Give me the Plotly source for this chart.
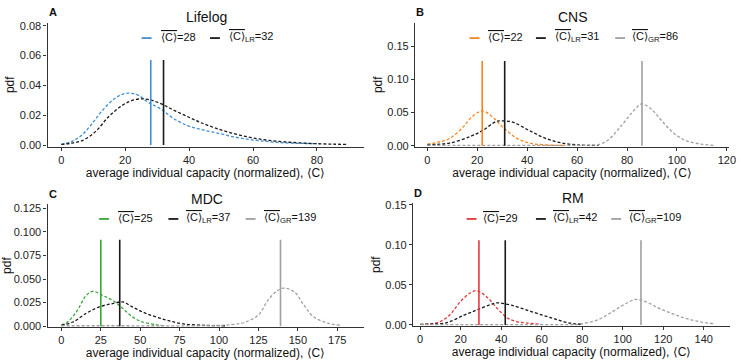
import plotly.graph_objects as go

W, H = 747, 364

# ---- data ----
titles = ["Lifelog", "CNS", "MDC", "RM"]
letters = ["A", "B", "C", "D"]

# A: Lifelog
life_x = [0, 3.5, 6.6, 9.7, 12.8, 15.9, 18.5, 21, 24, 27.2, 31.3, 35, 39.6, 44, 48.9, 54, 59, 64, 69.5, 75, 80]
life_y = [0.0004, 0.0026, 0.007, 0.0146, 0.023, 0.0298, 0.0335, 0.0348, 0.0335, 0.0287, 0.024, 0.018, 0.013, 0.0103, 0.008, 0.0055, 0.0037, 0.0025, 0.0015, 0.0011, 0.0009]
life_lr_x = [0, 3, 6.6, 10.7, 14.8, 19, 22, 25, 28, 31.3, 35, 39.6, 43.5, 47.8, 53, 59, 64, 69.5, 75, 80, 85, 89.6]
life_lr_y = [0.0004, 0.0012, 0.003, 0.009, 0.019, 0.0265, 0.0298, 0.031, 0.0302, 0.0276, 0.0236, 0.019, 0.0152, 0.0117, 0.0082, 0.0052, 0.0034, 0.0022, 0.0014, 0.0009, 0.0006, 0.0004]
life_means = [28, 32]

# B: CNS
cns_x = [0, 4, 9, 14.3, 18.3, 22.2, 26.2, 30.2, 35.5, 40.8, 46, 51.4, 55]
cns_y = [0.0024, 0.005, 0.011, 0.028, 0.045, 0.0524, 0.043, 0.028, 0.012, 0.004, 0.0015, 0.0005, 0.0002]
cns_lr_x = [0, 4, 9, 17, 22.2, 27.5, 29.5, 34.2, 40.8, 47.4, 54, 60.7, 68.6]
cns_lr_y = [0.001, 0.002, 0.004, 0.0135, 0.023, 0.0365, 0.0374, 0.0355, 0.023, 0.011, 0.004, 0.001, 0.0003]
cns_gr_x = [0, 15, 30, 45, 60, 65, 68.6, 72.6, 77.9, 83.2, 85.8, 89.8, 93.8, 99, 104, 109.7, 115]
cns_gr_y = [0.0005, 0.0005, 0.0005, 0.0005, 0.0005, 0.0008, 0.0015, 0.009, 0.031, 0.055, 0.063, 0.055, 0.038, 0.018, 0.007, 0.0024, 0.0005]
cns_means = [22, 31, 86]

# C: MDC
mdc_x = [0, 3.1, 9.4, 15.7, 19.9, 26.2, 32.5, 38.8, 45, 51.4, 59.7, 64]
mdc_y = [0.0017, 0.0034, 0.015, 0.0325, 0.037, 0.0325, 0.0274, 0.019, 0.010, 0.0045, 0.0017, 0.0007]
mdc_lr_x = [0, 7.3, 15.7, 24, 32.5, 38.8, 45, 53.5, 66, 76.5, 91, 104]
mdc_lr_y = [0.001, 0.0045, 0.0137, 0.0205, 0.024, 0.0257, 0.0205, 0.0137, 0.0068, 0.0027, 0.001, 0.0005]
mdc_gr_x = [0, 30, 60, 90, 108, 116, 125, 131, 137, 141.5, 148, 154, 160, 169, 177]
mdc_gr_y = [0.0005, 0.0005, 0.0005, 0.0006, 0.0017, 0.004, 0.012, 0.0274, 0.0377, 0.0404, 0.036, 0.022, 0.010, 0.0034, 0.001]
mdc_means = [25, 37, 139]

# D: RM
rm_x = [0, 4.7, 9.7, 14.7, 19.7, 24.7, 28, 33, 38, 43, 48, 53, 59.8]
rm_y = [0.0008, 0.0012, 0.004, 0.0128, 0.0288, 0.040, 0.0428, 0.0348, 0.0208, 0.0088, 0.004, 0.0024, 0.0008]
rm_lr_x = [0, 6, 13, 21.4, 28, 34.7, 38, 44.8, 54.8, 64.8, 73, 80]
rm_lr_y = [0.0008, 0.0012, 0.0028, 0.012, 0.0188, 0.0256, 0.0276, 0.0248, 0.0168, 0.0088, 0.0028, 0.0008]
rm_gr_x = [0, 25, 50, 75, 78, 88, 95, 101.6, 106.6, 111.6, 118, 125, 131.6, 138, 145]
rm_gr_y = [0.0005, 0.0005, 0.0005, 0.0006, 0.0008, 0.0068, 0.0168, 0.0268, 0.032, 0.0288, 0.0208, 0.0136, 0.008, 0.004, 0.0016]
rm_means = [29, 42, 109]

vline_tops = [0.057, 0.128, 0.0915, 0.106]
x_ranges = [[-4.3, 94.6], [-4.9, 120.9], [-8.8, 191.7], [-3.5, 153]]
y_ranges = [[-0.0013, 0.0822], [-0.002, 0.186], [-0.0007, 0.129], [-0.0012, 0.152]]
x_dticks = [20, 20, 25, 20]
y_dticks = [0.02, 0.05, 0.025, 0.05]
y_formats = [".2f", ".2f", ".3f", ".2f"]

BLUE, ORANGE, GREEN, RED = "#3f8fd2", "#f7851e", "#3aa53a", "#e5383b"
BLACK, GRAY = "#1a1a1a", "#a0a0a0"

curves = [
    [(life_x, life_y, BLUE), (life_lr_x, life_lr_y, BLACK)],
    [(cns_x, cns_y, ORANGE), (cns_lr_x, cns_lr_y, BLACK), (cns_gr_x, cns_gr_y, GRAY)],
    [(mdc_x, mdc_y, GREEN), (mdc_lr_x, mdc_lr_y, BLACK), (mdc_gr_x, mdc_gr_y, GRAY)],
    [(rm_x, rm_y, RED), (rm_lr_x, rm_lr_y, BLACK), (rm_gr_x, rm_gr_y, GRAY)],
]
means = [life_means, cns_means, mdc_means, rm_means]
subs = ["", "LR", "GR"]

# pixel boxes of each panel: left, right, top, bottom
boxes = [(48, 367, 18, 146), (419, 736, 18, 146), (48, 367, 205, 331), (417, 737, 204, 330)]
# legend positions (dash x, text x) per entry, and y
leg_pos = [
    ([(148, 160), (217, 229)], 33),
    ([(479, 491), (546, 558), (626, 636)], 33),
    ([(105, 117), (175, 186), (253, 264)], 219),
    ([(476, 486), (546, 556), (622, 633)], 219),
]

FONT = "Liberation Sans, Arial, sans-serif"


def px(x):
    return x / W


def py(y):
    return 1 - y / H


fig = go.Figure()
annotations = []
shapes = []

for i in range(4):
    n = "" if i == 0 else str(i + 1)
    xa, ya = "x" + n, "y" + n
    l, r, t, b = boxes[i]
    for cx, cy, col in curves[i]:
        fig.add_trace(go.Scatter(x=cx, y=cy, mode="lines", xaxis=xa, yaxis=ya,
                                 line=dict(color=col, width=1.3, dash="3px,2px", shape="spline"),
                                 showlegend=False, hoverinfo="skip"))
    for k, m in enumerate(means[i]):
        col = curves[i][k][2]
        fig.add_trace(go.Scatter(x=[m, m], y=[0, vline_tops[i]], mode="lines", xaxis=xa, yaxis=ya,
                                 line=dict(color=col, width=1.6), showlegend=False))
        # legend entry: short key line + label
        (dx, tx), ly = leg_pos[i][0][k], leg_pos[i][1]
        shapes.append(dict(type="line", xref="paper", yref="paper", x0=px(dx - 5), x1=px(dx + 5),
                           y0=py(ly + 1), y1=py(ly + 1), line=dict(color=col, width=1.8)))
        sub = f"<sub>{subs[k]}</sub>" if subs[k] else ""
        annotations.append(dict(xref="paper", yref="paper", x=px(tx), y=py(ly), xanchor="left",
                                yanchor="middle",
                                text=f"<span style='text-decoration:overline'>⟨C⟩</span>{sub}={m}",
                                showarrow=False, font=dict(color="#111", size=11, family=FONT)))
    axis_common = dict(showline=True, linecolor="#333", linewidth=1.3, ticks="outside", ticklen=3,
                       tickcolor="#333", tickwidth=1, showgrid=False, zeroline=False,
                       ticklabeloverflow="allow",
                       tickfont=dict(size=11, color="#222", family=FONT))
    fig.layout["xaxis" + n] = dict(axis_common, domain=[px(l), px(r)], anchor=ya, range=x_ranges[i],
                                   dtick=x_dticks[i], tick0=0,
                                   title=dict(text="average individual capacity (normalized), ⟨C⟩",
                                              font=dict(size=12, family=FONT, color="#111"), standoff=1))
    fig.layout["yaxis" + n] = dict(axis_common, domain=[py(b), py(t)], anchor=xa, range=y_ranges[i],
                                   dtick=y_dticks[i], tick0=0, tickformat=y_formats[i],
                                   title=dict(text="pdf", font=dict(size=12, family=FONT, color="#111"),
                                              standoff=2))
    annotations.append(dict(xref="paper", yref="paper", x=px((l + r) / 2 + 1), y=py(t - 6), text=titles[i],
                            xanchor="center", yanchor="middle",
                            showarrow=False, font=dict(size=14, family=FONT, color="#111")))
    annotations.append(dict(xref="paper", yref="paper", x=px(l - 1), y=py(t - 11), text=f"<b>{letters[i]}</b>",
                            xanchor="left", yanchor="middle",
                            showarrow=False, font=dict(size=11, family=FONT, color="#111")))

fig.update_layout(width=W, height=H, margin=dict(l=0, r=0, t=0, b=0),
                  paper_bgcolor="white", plot_bgcolor="white", annotations=annotations,
                  shapes=shapes, font=dict(family=FONT))
fig.write_html("out.html", config={"displayModeBar": False},
               post_script="document.body.style.margin='0';")
